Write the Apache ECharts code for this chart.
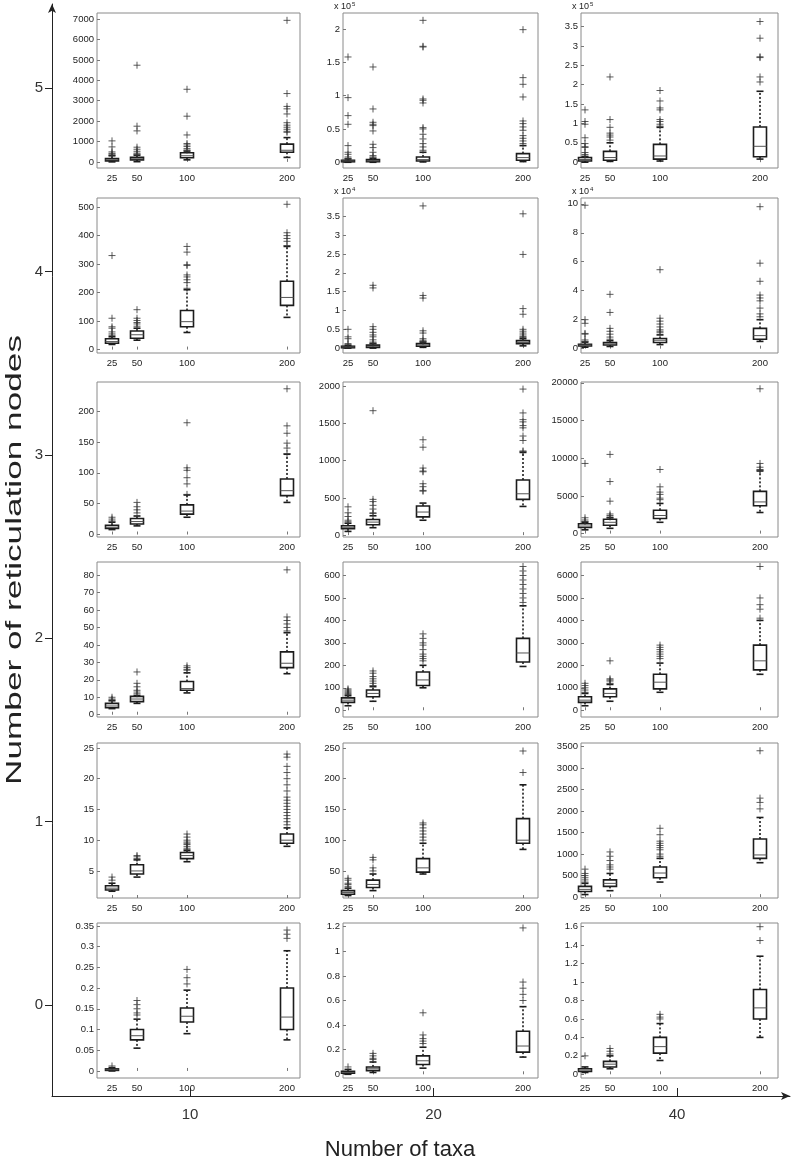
<!DOCTYPE html>
<html>
<head>
<meta charset="utf-8">
<script src="https://cdn.jsdelivr.net/npm/echarts@6/dist/echarts.min.js"></script>
<style>
html, body { margin: 0; padding: 0; background: #fff; }
#chart { width: 792px; height: 1175px; }
</style>
</head>
<body>
<div id="chart"></div>
<script>
// outer axes
const taxa = ['10', '20', '40'];
const reticulations = [5, 4, 3, 2, 1, 0];
const treeSizes = [25, 50, 100, 200];

// box: [lower whisker, q1, median, q3, upper whisker] per tree size
// out: outliers per tree size

// 5 reticulation nodes
const r5_t10_box = [[0, 50, 100, 160, 300], [10, 100, 150, 220, 330], [100, 200, 300, 450, 530], [220, 470, 570, 870, 1190]];
const r5_t10_out = [[1030, 735, 490, 420, 380, 330], [4740, 1750, 1520, 720, 620, 520, 430, 380], [3560, 2240, 1320, 900, 830, 750, 650, 580], [6940, 3350, 2720, 2600, 2350, 1920, 1800, 1700, 1600, 1500, 1450]];
const r5_t10_ticks = [0, 1000, 2000, 3000, 4000, 5000, 6000, 7000];

const r5_t20_box = [[0, 0.01, 0.02, 0.03, 0.05], [0, 0.01, 0.02, 0.04, 0.06], [0.005, 0.02, 0.04, 0.08, 0.15], [0.01, 0.03, 0.07, 0.13, 0.25]];
const r5_t20_out = [[1.58, 0.97, 0.70, 0.57, 0.25, 0.15, 0.12, 0.08, 0.06], [1.43, 0.80, 0.60, 0.57, 0.55, 0.47, 0.27, 0.22, 0.15, 0.10, 0.08], [2.13, 1.74, 1.73, 0.95, 0.93, 0.89, 0.52, 0.50, 0.42, 0.35, 0.28, 0.23, 0.18], [1.99, 1.27, 1.17, 0.98, 0.62, 0.58, 0.53, 0.48, 0.40, 0.36, 0.32, 0.28]];
const r5_t20_ticks = [0, 0.5, 1, 1.5, 2];

const r5_t40_box = [[0, 0.03, 0.07, 0.12, 0.14], [0.02, 0.05, 0.12, 0.28, 0.5], [0.03, 0.08, 0.16, 0.46, 0.9], [0.08, 0.14, 0.41, 0.91, 1.83]];
const r5_t40_out = [[1.35, 1.05, 0.98, 0.63, 0.48, 0.40, 0.38, 0.25, 0.20, 0.16], [2.2, 1.1, 0.9, 0.75, 0.70, 0.65, 0.57], [1.85, 1.58, 1.40, 1.35, 1.10, 1.05, 0.98, 0.93], [3.63, 3.2, 2.72, 2.70, 2.2, 2.07]];
const r5_t40_ticks = [0, 0.5, 1, 1.5, 2, 2.5, 3, 3.5];

// 4 reticulation nodes
const r4_t10_box = [[18, 22, 28, 38, 45], [33, 40, 52, 65, 75], [60, 80, 98, 137, 210], [113, 155, 183, 240, 362]];
const r4_t10_out = [[330, 110, 80, 75, 62, 55, 50], [140, 110, 102, 95, 90, 82], [362, 342, 298, 295, 262, 255, 245, 235, 215], [510, 410, 400, 390, 380, 365]];
const r4_t10_ticks = [0, 100, 200, 300, 400, 500];

const r4_t20_box = [[0, 0.01, 0.03, 0.05, 0.07], [0, 0.02, 0.05, 0.08, 0.12], [0.02, 0.05, 0.08, 0.12, 0.16], [0.06, 0.12, 0.15, 0.2, 0.25]];
const r4_t20_out = [[0.5, 0.3, 0.25, 0.12, 0.09], [1.67, 1.6, 0.57, 0.5, 0.42, 0.35, 0.3, 0.22, 0.16, 0.13], [3.78, 1.4, 1.33, 0.46, 0.4, 0.25, 0.21, 0.18], [3.57, 2.49, 1.05, 0.9, 0.5, 0.45, 0.4, 0.35, 0.31, 0.28]];
const r4_t20_ticks = [0, 0.5, 1, 1.5, 2, 2.5, 3, 3.5];

const r4_t40_box = [[0.1, 0.18, 0.25, 0.3, 0.45], [0.15, 0.25, 0.33, 0.42, 0.55], [0.28, 0.42, 0.58, 0.7, 0.95], [0.5, 0.65, 0.9, 1.4, 2.0]];
const r4_t40_out = [[9.9, 2.0, 1.75, 1.05, 1.0, 0.6, 0.5], [3.75, 2.5, 1.4, 1.2, 1.0, 0.8, 0.65], [5.45, 2.1, 1.9, 1.7, 1.5, 1.3, 1.2, 1.1], [9.8, 5.9, 4.65, 3.7, 3.5, 3.3, 2.8, 2.4, 2.2]];
const r4_t40_ticks = [0, 2, 4, 6, 8, 10];

// 3 reticulation nodes
const r3_t10_box = [[8, 10, 12, 15, 20], [14, 17, 21, 26, 30], [28, 33, 38, 48, 64], [52, 63, 71, 90, 130]];
const r3_t10_out = [[28, 25, 22], [52, 45, 40, 35], [181, 108, 104, 92, 82, 65], [236, 176, 164, 148, 140, 131]];
const r3_t10_ticks = [0, 50, 100, 150, 200];

const r3_t20_box = [[50, 85, 105, 125, 160], [100, 140, 175, 210, 260], [200, 245, 310, 390, 430], [385, 480, 555, 740, 1110]];
const r3_t20_out = [[380, 300, 250, 200, 180], [1670, 480, 450, 400, 350, 300, 290], [1280, 1180, 900, 860, 850, 690, 650, 600, 590], [1960, 1640, 1550, 1520, 1470, 1440, 1330, 1270, 1130, 1120]];
const r3_t20_ticks = [0, 500, 1000, 1500, 2000];

const r3_t40_box = [[500, 800, 1000, 1300, 1500], [700, 1100, 1500, 1900, 2100], [1500, 2000, 2400, 3100, 4000], [2800, 3700, 4200, 5600, 8300]];
const r3_t40_out = [[9300, 2100, 1800, 1600], [10500, 6900, 4300, 2600, 2400, 2200], [8500, 6200, 5500, 5200, 4700, 4500], [19200, 9300, 8800, 8500, 8400]];
const r3_t40_ticks = [0, 5000, 10000, 15000, 20000];

// 2 reticulation nodes
const r2_t10_box = [[3.5, 4, 5, 6.5, 8], [6.5, 7.5, 9, 10.5, 11], [12.5, 14, 15, 19, 24], [23.5, 27, 29.5, 36, 47]];
const r2_t10_out = [[10, 9, 8.5], [24.5, 18, 16, 14, 13, 12], [28, 27, 26, 25.5], [83, 56, 54, 52, 50, 48]];
const r2_t10_ticks = [0, 10, 20, 30, 40, 50, 60, 70, 80];

const r2_t20_box = [[20, 35, 45, 55, 65], [40, 60, 75, 90, 105], [100, 110, 135, 170, 200], [195, 215, 255, 320, 465]];
const r2_t20_out = [[95, 90, 85, 80, 75, 70], [175, 165, 150, 140, 130, 120, 110], [340, 320, 300, 290, 270, 250, 240, 230, 220], [640, 620, 600, 580, 560, 540, 520, 500, 480]];
const r2_t20_ticks = [0, 100, 200, 300, 400, 500, 600];

const r2_t40_box = [[200, 350, 450, 600, 750], [400, 600, 750, 950, 1150], [800, 950, 1250, 1600, 2100], [1600, 1800, 2200, 2900, 4000]];
const r2_t40_out = [[1200, 1100, 1000, 900, 800], [2200, 1400, 1350, 1300, 1200], [2900, 2800, 2700, 2600, 2500, 2400, 2300], [6400, 5000, 4700, 4500, 4100]];
const r2_t40_ticks = [0, 1000, 2000, 3000, 4000, 5000, 6000];

// 1 reticulation node
const r1_t10_box = [[1.7, 1.9, 2.2, 2.6, 3], [4, 4.5, 5, 6, 6.8], [6.5, 7, 7.5, 8, 8.3], [9, 9.5, 10, 11, 12]];
const r1_t10_out = [[4, 3.5], [7.5, 7.3, 7], [11, 10.5, 10, 9.7, 9.5, 9.3, 9, 8.7, 8.5], [24, 23.5, 22, 21, 20, 19, 18, 17, 16.5, 16, 15.5, 15, 14.5, 14, 13.5, 13, 12.5]];
const r1_t10_ticks = [5, 10, 15, 20, 25];

const r1_t20_box = [[10, 12, 15, 18, 22], [18, 23, 28, 35, 45], [45, 48, 55, 70, 95], [85, 95, 100, 135, 190]];
const r1_t20_out = [[38, 35, 30, 28, 25], [72, 68, 55, 50], [128, 125, 120, 115, 110, 105, 100], [245, 210]];
const r1_t20_ticks = [50, 100, 150, 200, 250];

const r1_t40_box = [[60, 130, 180, 250, 320], [150, 250, 320, 400, 550], [350, 450, 560, 700, 900], [800, 900, 980, 1350, 1850]];
const r1_t40_out = [[650, 550, 500, 450, 400, 350], [1050, 950, 850, 750, 700, 650], [1600, 1450, 1300, 1250, 1200, 1150, 1100, 1000, 950], [3400, 2300, 2200, 2050]];
const r1_t40_ticks = [0, 500, 1000, 1500, 2000, 2500, 3000, 3500];

// 0 reticulation nodes
const r0_t10_box = [[0, 0.002, 0.003, 0.005, 0.008], [0.055, 0.075, 0.085, 0.1, 0.125], [0.09, 0.118, 0.132, 0.152, 0.195], [0.075, 0.1, 0.13, 0.2, 0.29]];
const r0_t10_out = [[0.012], [0.17, 0.16, 0.15, 0.14, 0.135], [0.245, 0.225, 0.21], [0.34, 0.33, 0.32]];
const r0_t10_ticks = [0, 0.05, 0.1, 0.15, 0.2, 0.25, 0.3, 0.35];

const r0_t20_box = [[0, 0.01, 0.015, 0.025, 0.04], [0.015, 0.03, 0.045, 0.06, 0.1], [0.05, 0.08, 0.11, 0.15, 0.22], [0.14, 0.18, 0.23, 0.35, 0.55]];
const r0_t20_out = [[0.06], [0.17, 0.15, 0.13, 0.12], [0.5, 0.32, 0.29, 0.27, 0.25], [1.19, 0.75, 0.7, 0.65, 0.6]];
const r0_t20_ticks = [0, 0.2, 0.4, 0.6, 0.8, 1, 1.2];

const r0_t40_box = [[0.02, 0.03, 0.045, 0.06, 0.08], [0.06, 0.08, 0.11, 0.14, 0.2], [0.15, 0.23, 0.3, 0.4, 0.55], [0.4, 0.6, 0.72, 0.92, 1.28]];
const r0_t40_out = [[0.2], [0.28, 0.25, 0.22], [0.65, 0.62, 0.6], [1.65, 1.6, 1.45]];
const r0_t40_ticks = [0, 0.2, 0.4, 0.6, 0.8, 1, 1.2, 1.4, 1.6];

// layout of the 6 x 3 panels
const cols = [
    { left: 97, width: 203, xMin: 10, xMax: 213 },
    { left: 343, width: 195, xMin: 20, xMax: 215 },
    { left: 581, width: 197, xMin: 21, xMax: 218 }
];
const rowTops = [13, 198, 382, 562, 743, 923];
const panelHeight = 155;

const panels = [
    { row: 0, col: 0, box: r5_t10_box, out: r5_t10_out, ticks: r5_t10_ticks, min: -300, max: 7300 },
    { row: 0, col: 1, box: r5_t20_box, out: r5_t20_out, ticks: r5_t20_ticks, min: -0.086, max: 2.24, exp: 5 },
    { row: 0, col: 2, box: r5_t40_box, out: r5_t40_out, ticks: r5_t40_ticks, min: -0.15, max: 3.85, exp: 5 },
    { row: 1, col: 0, box: r4_t10_box, out: r4_t10_out, ticks: r4_t10_ticks, min: -12, max: 532 },
    { row: 1, col: 1, box: r4_t20_box, out: r4_t20_out, ticks: r4_t20_ticks, min: -0.13, max: 3.99, exp: 4 },
    { row: 1, col: 2, box: r4_t40_box, out: r4_t40_out, ticks: r4_t40_ticks, min: -0.3, max: 10.4, exp: 4 },
    { row: 2, col: 0, box: r3_t10_box, out: r3_t10_out, ticks: r3_t10_ticks, min: -4, max: 247 },
    { row: 2, col: 1, box: r3_t20_box, out: r3_t20_out, ticks: r3_t20_ticks, min: -25, max: 2055 },
    { row: 2, col: 2, box: r3_t40_box, out: r3_t40_out, ticks: r3_t40_ticks, min: -450, max: 20100 },
    { row: 3, col: 0, box: r2_t10_box, out: r2_t10_out, ticks: r2_t10_ticks, min: -1.3, max: 87.5 },
    { row: 3, col: 1, box: r2_t20_box, out: r2_t20_out, ticks: r2_t20_ticks, min: -30, max: 660 },
    { row: 3, col: 2, box: r2_t40_box, out: r2_t40_out, ticks: r2_t40_ticks, min: -300, max: 6600 },
    { row: 4, col: 0, box: r1_t10_box, out: r1_t10_out, ticks: r1_t10_ticks, min: 0.6, max: 25.8 },
    { row: 4, col: 1, box: r1_t20_box, out: r1_t20_out, ticks: r1_t20_ticks, min: 6, max: 258 },
    { row: 4, col: 2, box: r1_t40_box, out: r1_t40_out, ticks: r1_t40_ticks, min: -20, max: 3580 },
    { row: 5, col: 0, box: r0_t10_box, out: r0_t10_out, ticks: r0_t10_ticks, min: -0.017, max: 0.357 },
    { row: 5, col: 1, box: r0_t20_box, out: r0_t20_out, ticks: r0_t20_ticks, min: -0.03, max: 1.23 },
    { row: 5, col: 2, box: r0_t40_box, out: r0_t40_out, ticks: r0_t40_ticks, min: -0.04, max: 1.64 }
];

const FONT = 'Liberation Sans, Arial, sans-serif';
const INK = '#1c1c1c';

function renderBox(params, api) {
    const x = api.value(0);
    const lo = api.coord([x, api.value(1)]);
    const q1 = api.coord([x, api.value(2)]);
    const med = api.coord([x, api.value(3)]);
    const q3 = api.coord([x, api.value(4)]);
    const hi = api.coord([x, api.value(5)]);
    const cx = med[0];
    const hw = 6.5;
    const cap = 3.5;
    const dash = { stroke: INK, lineWidth: 1.6, lineDash: [2, 2] };
    const solid = { stroke: INK, lineWidth: 1.6 };
    return {
        type: 'group',
        children: [
            { type: 'line', shape: { x1: cx, y1: q3[1], x2: cx, y2: hi[1] }, style: dash },
            { type: 'line', shape: { x1: cx, y1: q1[1], x2: cx, y2: lo[1] }, style: dash },
            { type: 'line', shape: { x1: cx - cap, y1: hi[1], x2: cx + cap, y2: hi[1] }, style: solid },
            { type: 'line', shape: { x1: cx - cap, y1: lo[1], x2: cx + cap, y2: lo[1] }, style: solid },
            { type: 'rect', shape: { x: cx - hw, y: q3[1], width: hw * 2, height: Math.max(q1[1] - q3[1], 1.5) },
              style: { fill: '#fff', stroke: INK, lineWidth: 1.6 } },
            { type: 'line', shape: { x1: cx - hw, y1: med[1], x2: cx + hw, y2: med[1] }, style: { stroke: '#555', lineWidth: 1 } }
        ]
    };
}

const grids = [], xAxes = [], yAxes = [], series = [], graphics = [];

panels.forEach(function (p, i) {
    const c = cols[p.col];
    const top = rowTops[p.row];
    grids.push({ left: c.left, top: top, width: c.width, height: panelHeight, show: true,
        borderColor: '#8a8a8a', borderWidth: 1, backgroundColor: 'transparent' });
    xAxes.push({ type: 'value', gridIndex: i, min: c.xMin, max: c.xMax,
        axisLine: { show: false }, splitLine: { show: false },
        axisTick: { show: true, inside: true, length: 3, customValues: treeSizes, lineStyle: { color: '#777' } },
        axisLabel: { customValues: treeSizes, fontSize: 9.5, color: '#222', margin: 5, fontFamily: FONT } });
    yAxes.push({ type: 'value', gridIndex: i, min: p.min, max: p.max,
        axisLine: { show: false }, splitLine: { show: false },
        axisTick: { show: true, inside: true, length: 3, customValues: p.ticks, lineStyle: { color: '#777' } },
        axisLabel: { customValues: p.ticks, fontSize: 9.5, color: '#222', margin: 3, fontFamily: FONT,
            formatter: function (v) { return String(v); } } });
    series.push({
        type: 'custom', xAxisIndex: i, yAxisIndex: i, renderItem: renderBox, silent: true,
        encode: { x: 0, y: [1, 2, 3, 4, 5] },
        data: p.box.map(function (b, k) { return [treeSizes[k]].concat(b); })
    });
    const pts = [];
    p.out.forEach(function (list, k) {
        list.forEach(function (v) { pts.push([treeSizes[k], v]); });
    });
    series.push({
        type: 'scatter', xAxisIndex: i, yAxisIndex: i, silent: true,
        symbol: 'path://M0,5L10,5M5,0L5,10', symbolSize: 7,
        itemStyle: { color: 'rgba(0,0,0,0)', borderColor: '#333', borderWidth: 1 },
        data: pts
    });
    if (p.exp) {
        graphics.push({ type: 'text', left: c.left - 9, top: top - 12,
            style: { text: '{a|x 10}{b|' + p.exp + '}',
                rich: { a: { fontSize: 9, fill: '#222', fontFamily: FONT },
                        b: { fontSize: 6, fill: '#222', fontFamily: FONT, verticalAlign: 'top', padding: [0, 0, 6, 1] } } } });
    }
});

// outer axes carrying the taxa / reticulation scales
const outer = panels.length;
grids.push({ left: 52, right: 2, top: 4, bottom: 79, show: false });
xAxes.push({ type: 'value', gridIndex: outer, min: 0.4333, max: 3.464,
    splitLine: { show: false },
    axisLine: { show: true, onZero: false, symbol: ['none', 'arrow'], symbolSize: [6, 9], lineStyle: { color: '#222', width: 1 } },
    axisTick: { show: true, inside: true, length: 8, customValues: [1, 2, 3], lineStyle: { color: '#222' } },
    axisLabel: { customValues: [1, 2, 3], fontSize: 15, color: '#333', margin: 11, fontFamily: FONT,
        formatter: function (v) { return taxa[Math.round(v) - 1]; } } });
yAxes.push({ type: 'value', gridIndex: outer, min: -0.496, max: 5.458,
    splitLine: { show: false },
    axisLine: { show: true, onZero: false, symbol: ['none', 'arrow'], symbolSize: [6, 9], lineStyle: { color: '#222', width: 1 } },
    axisTick: { show: true, inside: false, length: 7, customValues: reticulations, lineStyle: { color: '#222' } },
    axisLabel: { customValues: reticulations, fontSize: 15, color: '#333', margin: 9, fontFamily: FONT } });

graphics.push({ type: 'text', x: 15, y: 560, rotation: Math.PI / 2, scaleX: 1.6,
    style: { text: 'Number of reticulation nodes', fontSize: 22, fill: '#222',
        fontFamily: FONT, align: 'center', verticalAlign: 'middle' } });
graphics.push({ type: 'text', x: 400, y: 1150,
    style: { text: 'Number of taxa', fontSize: 22, fill: '#222',
        fontFamily: FONT, align: 'center', verticalAlign: 'middle' } });

const chart = echarts.init(document.getElementById('chart'), null, { renderer: 'canvas' });
chart.setOption({
    backgroundColor: '#fff',
    animation: false,
    grid: grids,
    xAxis: xAxes,
    yAxis: yAxes,
    series: series,
    graphic: graphics
});
</script>
</body>
</html>
